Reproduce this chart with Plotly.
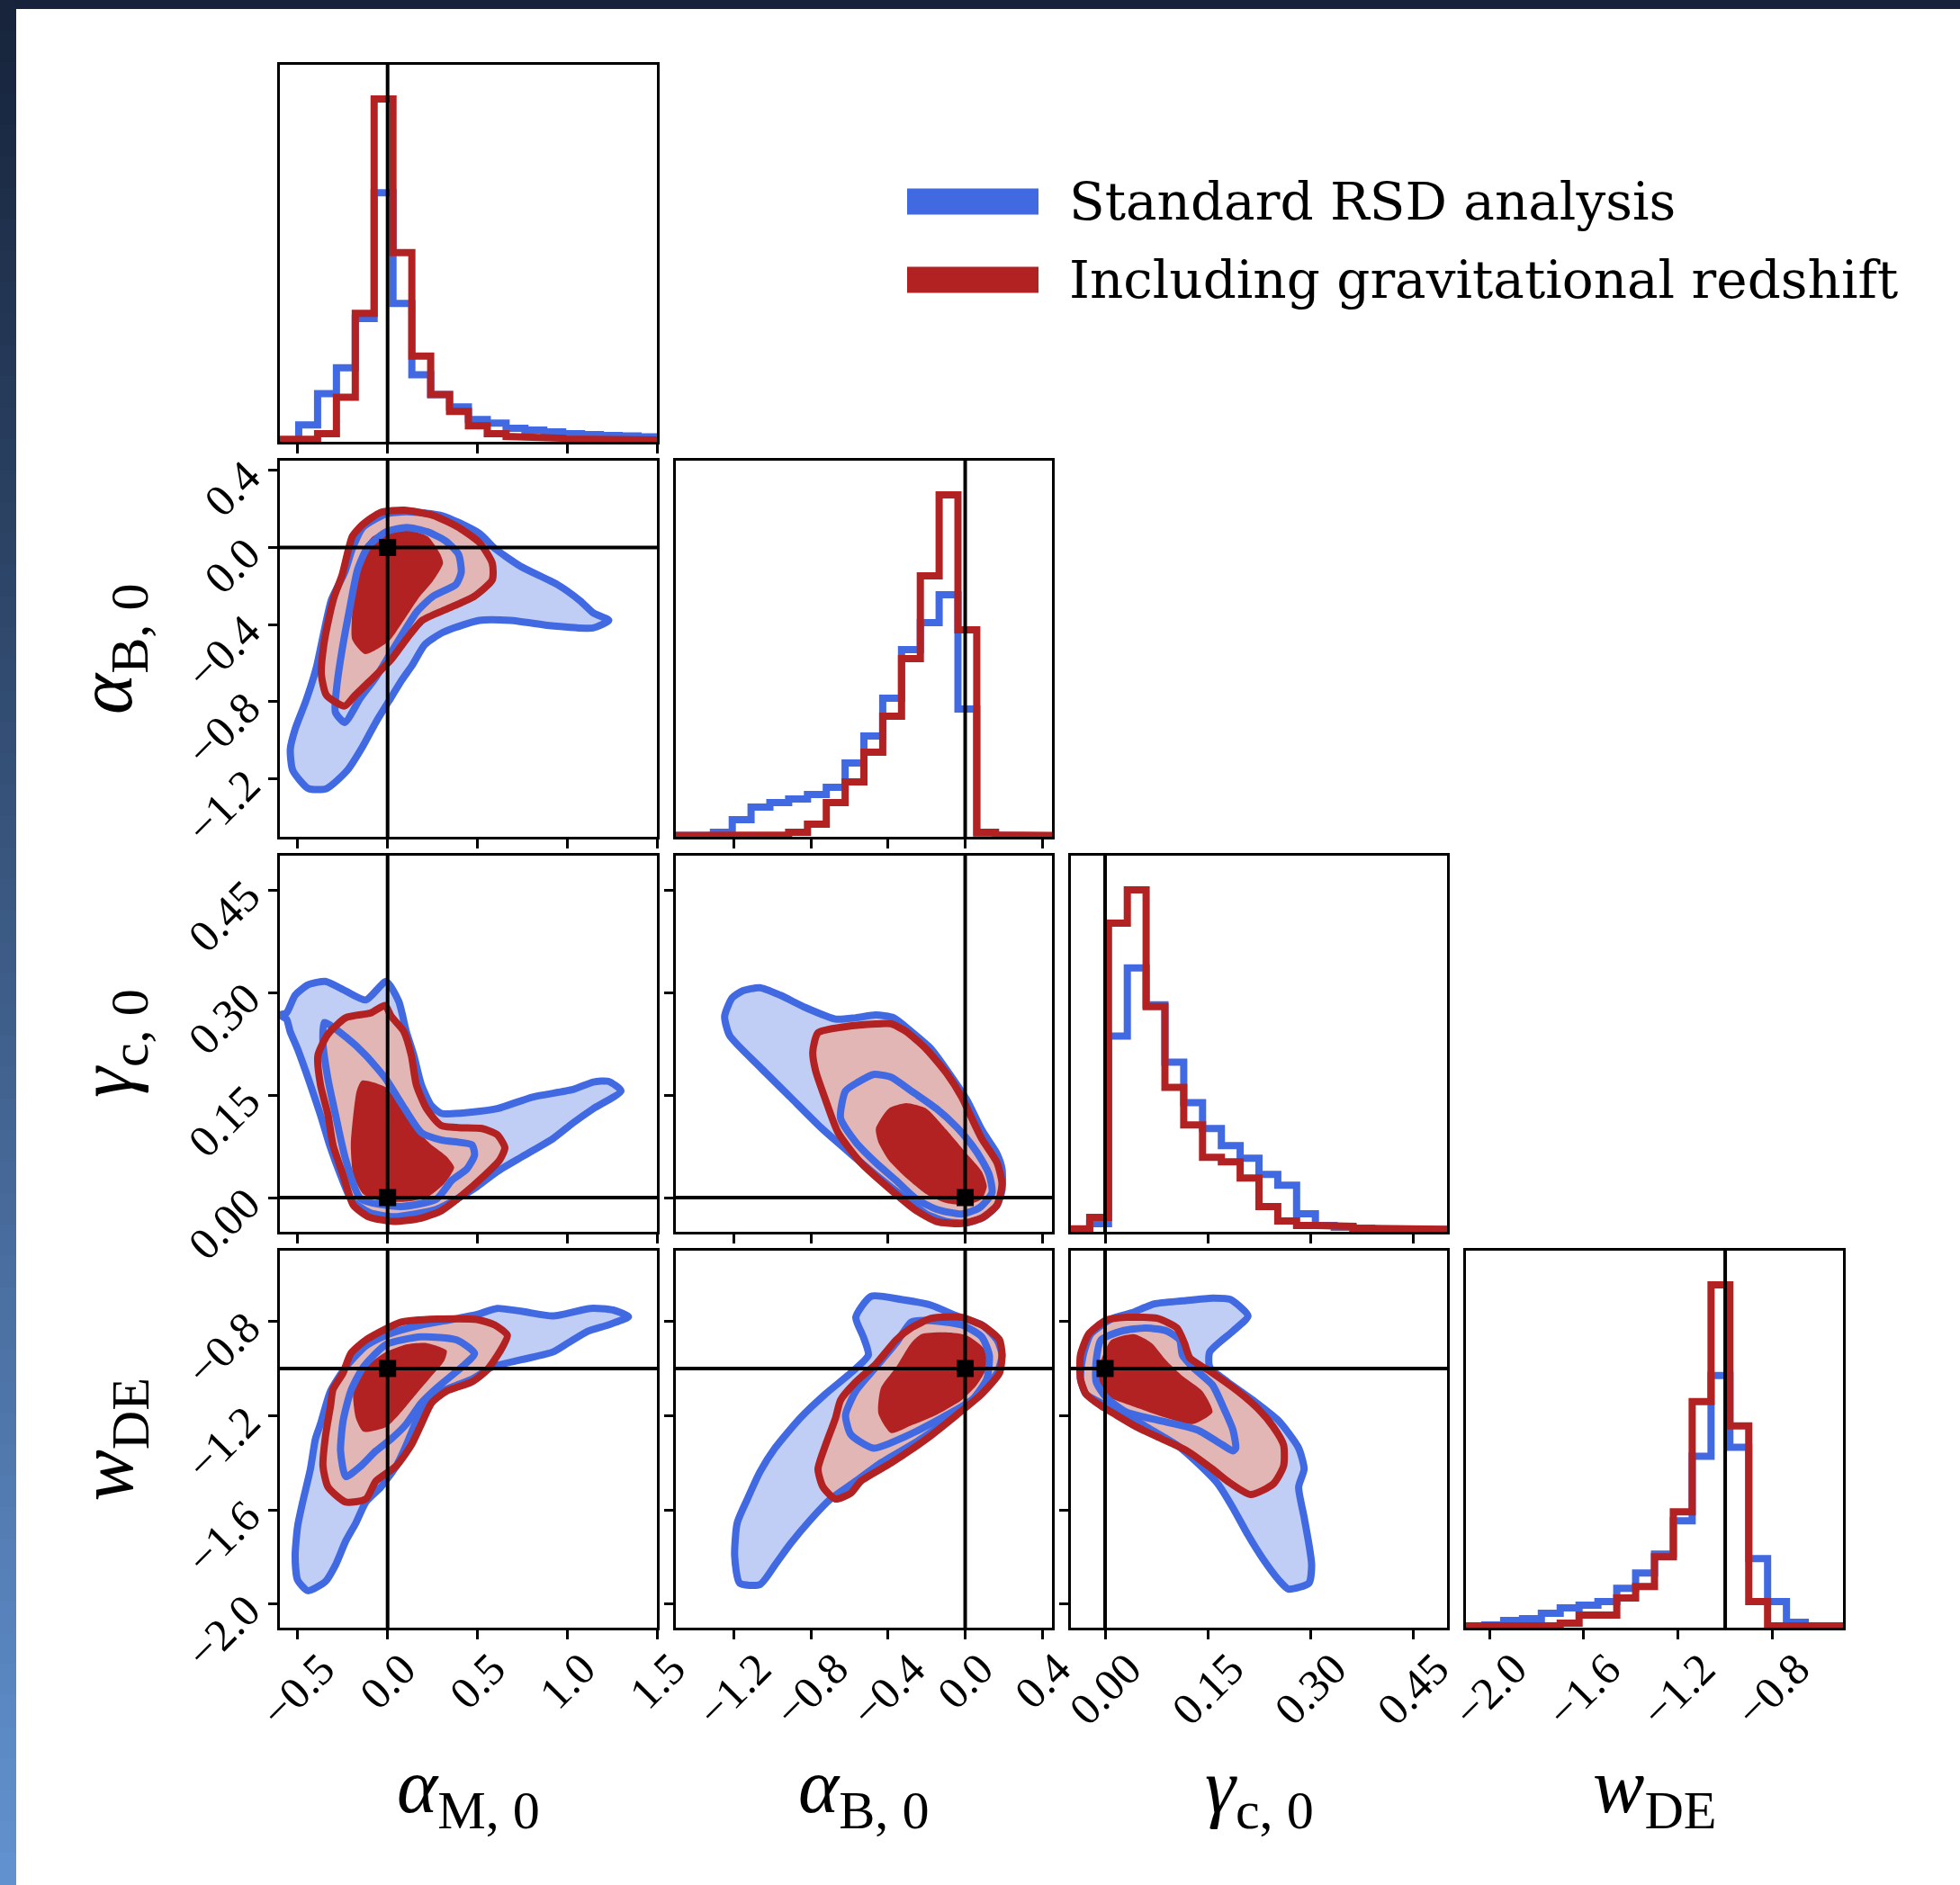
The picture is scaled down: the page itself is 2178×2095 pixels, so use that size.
import plotly.graph_objects as go

W, H = 2178, 2095

# ---------------- data ----------------
param_labels = ["<i>α</i><sub>M, 0</sub>", "<i>α</i><sub>B, 0</sub>",
                "<i>γ</i><sub>c, 0</sub>", "<i>w</i><sub>DE</sub>"]
param_ranges = [[-0.6, 1.5], [-1.5, 0.45], [-0.05, 0.5], [-2.1, -0.5]]
truth_values = [0.0, 0.0, 0.0, -1.0]
tick_values = [[-0.5, 0.0, 0.5, 1.0, 1.5], [-1.2, -0.8, -0.4, 0.0, 0.4],
               [0.0, 0.15, 0.30, 0.45], [-2.0, -1.6, -1.2, -0.8]]
tick_formats = [".1f", ".1f", ".2f", ".1f"]
n_bins = 20
legend_labels = ["Standard RSD analysis", "Including gravitational redshift"]

# 1D marginal histograms (20 bins over each parameter range, relative counts)
hist_std_aM = [2, 19, 54, 83, 138, 279, 155, 75, 53, 39, 25, 21, 15, 13, 11, 9, 8, 7, 6.5, 5.5]
hist_grav_aM = [2.7, 2.7, 9, 50, 144, 384, 212, 96, 53, 34, 18, 9, 6, 5, 4, 3, 3, 2.5, 2, 2]
hist_std_aB = [1.5, 1.5, 5, 19, 33, 38, 42, 47, 55, 82, 112, 154, 208, 238, 269, 142, 2, 1, 0.5, 0.5]
hist_grav_aB = [1.5, 1.5, 1.5, 1.5, 1.5, 2, 5, 14, 38, 61, 94, 134, 198, 290, 380, 230, 5, 2, 1.5, 1.5]
hist_std_gc = [0.5, 9, 218, 294, 253, 189, 144, 115, 96, 82, 64, 52, 20, 7, 5, 4, 3, 2.5, 2.5, 2.5]
hist_grav_gc = [3.3, 16, 344, 381, 251, 161, 119, 83, 78, 60, 28, 12, 7, 7, 6, 4, 2.7, 2.7, 2.7, 2.7]
hist_std_w = [1, 3, 8, 10, 16, 22, 25, 29, 44, 61, 82, 119, 191, 281, 201, 77, 29, 6, 2, 2]
hist_grav_w = [2, 2, 2, 2, 2, 5, 14, 14, 33, 46, 79, 129, 252, 382, 225, 29, 2, 2, 2, 2]

# 2D credible contours (x, y) ; std = standard RSD, grav = incl. gravitational redshift
# panel alpha_M (x) - alpha_B (y)
std95_aM_aB = [(-0.009, 0.174), (0.107, 0.185), (0.309, 0.163), (0.511, 0.073), (0.597, -0.005),
               (0.741, -0.098), (0.943, -0.191), (1.073, -0.277), (1.145, -0.339), (1.232, -0.378),
               (1.145, -0.417), (0.915, -0.406), (0.684, -0.378), (0.511, -0.378), (0.309, -0.440),
               (0.208, -0.503), (0.136, -0.612), (0.078, -0.689), (0.006, -0.798), (-0.066, -0.907),
               (-0.139, -1.032), (-0.225, -1.156), (-0.340, -1.250), (-0.441, -1.250), (-0.528, -1.156),
               (-0.542, -1.047), (-0.514, -0.939), (-0.456, -0.798), (-0.398, -0.627), (-0.355, -0.440),
               (-0.312, -0.269), (-0.239, -0.129), (-0.196, -0.005), (-0.138, 0.104)]
std68_aM_aB = [(-0.239, -0.907), (-0.291, -0.853), (-0.283, -0.721), (-0.254, -0.534), (-0.211, -0.316),
               (-0.167, -0.114), (-0.110, 0.003), (-0.009, 0.081), (0.107, 0.104), (0.222, 0.081),
               (0.323, 0.034), (0.395, -0.036), (0.410, -0.129), (0.381, -0.191), (0.251, -0.254),
               (0.164, -0.332), (0.078, -0.456), (0.006, -0.565), (-0.066, -0.674), (-0.153, -0.783)]
grav95_aM_aB = [(-0.239, -0.822), (-0.340, -0.767), (-0.369, -0.658), (-0.355, -0.503), (-0.326, -0.363),
                (-0.297, -0.254), (-0.254, -0.145), (-0.225, -0.036), (-0.196, 0.058), (-0.138, 0.120),
                (-0.038, 0.182), (0.092, 0.193), (0.251, 0.167), (0.395, 0.104), (0.511, 0.026),
                (0.583, -0.082), (0.583, -0.168), (0.482, -0.254), (0.338, -0.316), (0.193, -0.378),
                (0.107, -0.472), (0.020, -0.581), (-0.095, -0.689), (-0.182, -0.767)]
grav68_aM_aB = [(-0.124, -0.553), (-0.196, -0.479), (-0.196, -0.316), (-0.182, -0.145), (-0.153, -0.036),
                (-0.081, 0.058), (0.078, 0.096), (0.222, 0.058), (0.294, -0.036), (0.309, -0.082),
                (0.251, -0.176), (0.179, -0.254), (0.078, -0.394), (0.006, -0.487)]

# panel alpha_M (x) - gamma_c (y)
std95_aM_gc = [(-0.563, 0.270), (-0.600, 0.267), (-0.563, 0.261), (-0.543, 0.243), (-0.501, 0.217),
               (-0.430, 0.165), (-0.374, 0.121), (-0.323, 0.077), (-0.262, 0.033), (-0.200, -0.004),
               (-0.100, -0.022), (0.034, -0.028), (0.273, -0.017), (0.399, 0.000), (0.498, 0.016),
               (0.610, 0.038), (0.751, 0.060), (0.920, 0.086), (1.032, 0.109), (1.145, 0.130),
               (1.300, 0.156), (1.229, 0.170), (1.145, 0.169), (1.032, 0.158), (0.807, 0.147),
               (0.610, 0.130), (0.470, 0.125), (0.301, 0.123), (0.245, 0.134), (0.188, 0.165),
               (0.146, 0.208), (0.104, 0.243), (0.062, 0.287), (-0.008, 0.316), (-0.121, 0.289),
               (-0.233, 0.302), (-0.346, 0.316), (-0.444, 0.311), (-0.515, 0.296)]
std68_aM_gc = [(-0.352, 0.256), (-0.233, 0.235), (-0.121, 0.208), (-0.008, 0.173), (0.076, 0.138),
               (0.188, 0.095), (0.301, 0.084), (0.470, 0.077), (0.484, 0.062), (0.442, 0.042),
               (0.357, 0.025), (0.273, -0.002), (0.076, -0.013), (-0.149, -0.002), (-0.233, 0.055),
               (-0.290, 0.121), (-0.332, 0.173), (-0.360, 0.226)]
grav95_aM_gc = [(-0.014, 0.281), (-0.093, 0.270), (-0.233, 0.263), (-0.332, 0.239), (-0.388, 0.208),
                (-0.374, 0.165), (-0.332, 0.121), (-0.304, 0.077), (-0.248, 0.033), (-0.191, -0.011),
                (-0.107, -0.028), (0.034, -0.035), (0.188, -0.030), (0.301, -0.019), (0.413, 0.003),
                (0.526, 0.029), (0.624, 0.055), (0.653, 0.073), (0.610, 0.092), (0.526, 0.101),
                (0.301, 0.105), (0.217, 0.130), (0.160, 0.165), (0.132, 0.208), (0.090, 0.243),
                (0.020, 0.265)]
grav68_aM_gc = [(-0.143, 0.171), (-0.008, 0.161), (0.076, 0.130), (0.160, 0.099), (0.245, 0.077),
                (0.329, 0.060), (0.371, 0.044), (0.315, 0.020), (0.217, 0.000), (0.104, -0.006),
                (-0.037, -0.005), (-0.135, 0.005), (-0.191, 0.033), (-0.205, 0.077), (-0.191, 0.121),
                (-0.172, 0.156)]

# panel alpha_B (x) - gamma_c (y)
std95_aB_gc = [(-1.247, 0.265), (-1.208, 0.292), (-1.156, 0.302), (-1.064, 0.307), (-0.959, 0.296),
               (-0.829, 0.278), (-0.672, 0.261), (-0.567, 0.263), (-0.463, 0.267), (-0.371, 0.263),
               (-0.280, 0.243), (-0.175, 0.217), (-0.084, 0.182), (0.008, 0.143), (0.086, 0.099),
               (0.165, 0.064), (0.191, 0.042), (0.191, 0.011), (0.165, -0.011), (0.099, -0.028),
               (0.008, -0.037), (-0.097, -0.035), (-0.201, -0.024), (-0.306, -0.002), (-0.463, 0.033),
               (-0.593, 0.064), (-0.750, 0.103), (-0.907, 0.147), (-1.064, 0.191), (-1.221, 0.237)]
std68_aB_gc = [(-0.620, 0.156), (-0.554, 0.169), (-0.476, 0.180), (-0.384, 0.176), (-0.280, 0.156),
               (-0.149, 0.130), (-0.044, 0.103), (0.034, 0.077), (0.086, 0.055), (0.125, 0.033),
               (0.139, 0.007), (0.073, -0.015), (-0.018, -0.024), (-0.149, -0.017), (-0.254, -0.002),
               (-0.358, 0.025), (-0.463, 0.051), (-0.567, 0.081), (-0.646, 0.116)]
grav95_aB_gc = [(-0.790, 0.213), (-0.763, 0.241), (-0.620, 0.250), (-0.463, 0.254), (-0.384, 0.254),
                (-0.306, 0.243), (-0.201, 0.217), (-0.097, 0.182), (-0.018, 0.147), (0.034, 0.116),
                (0.086, 0.086), (0.165, 0.051), (0.191, 0.020), (0.165, -0.011), (0.086, -0.030),
                (-0.018, -0.038), (-0.149, -0.035), (-0.254, -0.019), (-0.384, 0.011), (-0.541, 0.051),
                (-0.659, 0.095), (-0.724, 0.143), (-0.776, 0.186)]
grav68_aB_gc = [(-0.463, 0.101), (-0.397, 0.130), (-0.306, 0.138), (-0.201, 0.130), (-0.097, 0.099),
                (0.008, 0.064), (0.086, 0.038), (0.112, 0.016), (0.086, -0.002), (0.008, -0.011),
                (-0.097, -0.008), (-0.201, 0.005), (-0.306, 0.029), (-0.397, 0.055), (-0.450, 0.081)]

# panel alpha_M (x) - w_DE (y)
std95_aM_w = [(-0.444, -1.943), (-0.501, -1.898), (-0.515, -1.796), (-0.501, -1.669), (-0.473, -1.567),
              (-0.430, -1.427), (-0.402, -1.299), (-0.374, -1.236), (-0.318, -1.096), (-0.233, -0.994),
              (-0.121, -0.904), (0.006, -0.854), (0.188, -0.815), (0.357, -0.792), (0.498, -0.771),
              (0.610, -0.745), (0.751, -0.758), (0.920, -0.777), (1.131, -0.745), (1.257, -0.752),
              (1.342, -0.780), (1.229, -0.815), (1.117, -0.841), (1.004, -0.892), (0.920, -0.930),
              (0.751, -0.962), (0.582, -0.994), (0.470, -1.045), (0.301, -1.096), (0.217, -1.134),
              (0.160, -1.223), (0.104, -1.325), (0.048, -1.414), (-0.037, -1.503), (-0.121, -1.567),
              (-0.177, -1.656), (-0.233, -1.732), (-0.290, -1.834), (-0.346, -1.904)]
std68_aM_w = [(-0.233, -1.459), (-0.262, -1.350), (-0.248, -1.223), (-0.205, -1.096), (-0.135, -0.994),
              (-0.008, -0.898), (0.188, -0.866), (0.385, -0.879), (0.484, -0.936), (0.413, -0.994),
              (0.273, -1.083), (0.188, -1.146), (0.104, -1.236), (0.020, -1.299), (-0.065, -1.350),
              (-0.149, -1.414)]
grav95_aM_w = [(-0.233, -1.567), (-0.332, -1.503), (-0.360, -1.414), (-0.346, -1.287), (-0.318, -1.159),
               (-0.304, -1.089), (-0.248, -1.019), (-0.205, -0.936), (-0.121, -0.879), (0.076, -0.803),
               (0.273, -0.790), (0.498, -0.792), (0.596, -0.815), (0.667, -0.860), (0.624, -0.930),
               (0.554, -1.006), (0.470, -1.057), (0.329, -1.096), (0.245, -1.146), (0.188, -1.236),
               (0.132, -1.325), (0.048, -1.414), (-0.065, -1.478), (-0.121, -1.554)]
grav68_aM_w = [(-0.135, -1.268), (-0.177, -1.210), (-0.191, -1.096), (-0.121, -0.994), (-0.008, -0.930),
               (0.104, -0.898), (0.217, -0.892), (0.329, -0.924), (0.315, -0.968), (0.245, -1.032),
               (0.160, -1.108), (0.062, -1.197), (-0.008, -1.248)]

# panel alpha_B (x) - w_DE (y)
std95_aB_w = [(-1.169, -1.911), (-1.195, -1.796), (-1.182, -1.656), (-1.129, -1.554), (-1.064, -1.439),
              (-0.986, -1.338), (-0.855, -1.210), (-0.724, -1.108), (-0.593, -1.019), (-0.502, -0.943),
              (-0.528, -0.866), (-0.567, -0.783), (-0.489, -0.694), (-0.332, -0.707), (-0.175, -0.732),
              (-0.044, -0.777), (0.086, -0.815), (0.165, -0.879), (0.191, -0.943), (0.165, -1.019),
              (0.060, -1.121), (-0.097, -1.223), (-0.254, -1.312), (-0.437, -1.401), (-0.567, -1.478),
              (-0.698, -1.554), (-0.803, -1.643), (-0.907, -1.745), (-0.986, -1.834), (-1.064, -1.917)]
std68_aB_w = [(-0.476, -1.338), (-0.593, -1.280), (-0.620, -1.197), (-0.567, -1.096), (-0.463, -0.994),
              (-0.358, -0.892), (-0.280, -0.803), (-0.201, -0.796), (-0.018, -0.815), (0.086, -0.866),
              (0.125, -0.943), (0.112, -1.045), (0.034, -1.134), (-0.123, -1.210), (-0.306, -1.287)]
grav95_aB_w = [(-0.672, -1.554), (-0.737, -1.503), (-0.763, -1.427), (-0.724, -1.325), (-0.672, -1.210),
               (-0.646, -1.134), (-0.567, -1.057), (-0.463, -0.981), (-0.358, -0.879), (-0.280, -0.828),
               (-0.175, -0.787), (-0.018, -0.783), (0.099, -0.822), (0.178, -0.879), (0.191, -0.943),
               (0.178, -1.019), (0.086, -1.108), (-0.044, -1.197), (-0.201, -1.299), (-0.384, -1.401),
               (-0.541, -1.478), (-0.593, -1.529)]
grav68_aB_w = [(-0.384, -1.274), (-0.450, -1.191), (-0.437, -1.083), (-0.358, -0.994), (-0.280, -0.892),
               (-0.227, -0.854), (-0.097, -0.847), (0.008, -0.860), (0.099, -0.917), (0.112, -0.994),
               (0.060, -1.070), (-0.018, -1.134), (-0.149, -1.197), (-0.280, -1.242)]

# panel gamma_c (x) - w_DE (y)
std95_gc_w = [(0.039, -0.764), (0.072, -0.726), (0.113, -0.713), (0.157, -0.701), (0.183, -0.707),
              (0.209, -0.777), (0.187, -0.841), (0.153, -0.930), (0.153, -0.994), (0.179, -1.057),
              (0.216, -1.134), (0.254, -1.223), (0.283, -1.338), (0.291, -1.427), (0.283, -1.503),
              (0.291, -1.631), (0.298, -1.745), (0.302, -1.834), (0.298, -1.911), (0.268, -1.936),
              (0.254, -1.898), (0.231, -1.809), (0.209, -1.707), (0.187, -1.592), (0.165, -1.490),
              (0.135, -1.401), (0.105, -1.325), (0.068, -1.261), (0.024, -1.185), (-0.006, -1.146),
              (-0.028, -1.108), (-0.036, -1.045), (-0.032, -0.943), (-0.021, -0.854), (0.009, -0.790)]
std68_gc_w = [(0.187, -1.350), (0.172, -1.325), (0.135, -1.261), (0.083, -1.223), (0.031, -1.185),
              (0.001, -1.121), (-0.013, -1.057), (-0.013, -0.968), (-0.006, -0.879), (0.024, -0.841),
              (0.061, -0.828), (0.090, -0.841), (0.109, -0.879), (0.113, -0.943), (0.128, -0.994),
              (0.157, -1.070), (0.172, -1.159), (0.187, -1.261), (0.191, -1.338)]
grav95_gc_w = [(0.213, -1.535), (0.179, -1.478), (0.157, -1.427), (0.120, -1.350), (0.083, -1.299),
               (0.046, -1.248), (0.016, -1.197), (-0.006, -1.159), (-0.028, -1.108), (-0.036, -1.045),
               (-0.036, -0.943), (-0.024, -0.854), (0.001, -0.796), (0.031, -0.783), (0.076, -0.787),
               (0.105, -0.828), (0.116, -0.892), (0.124, -0.955), (0.157, -1.019), (0.194, -1.096),
               (0.224, -1.172), (0.246, -1.248), (0.261, -1.325), (0.261, -1.414), (0.246, -1.490)]
grav68_gc_w = [(0.128, -1.236), (0.090, -1.210), (0.039, -1.159), (0.005, -1.121), (-0.010, -1.070),
               (-0.006, -0.968), (0.009, -0.879), (0.042, -0.854), (0.068, -0.892), (0.090, -0.968),
               (0.113, -1.032), (0.142, -1.096), (0.157, -1.185)]

hist_std = [hist_std_aM, hist_std_aB, hist_std_gc, hist_std_w]
hist_grav = [hist_grav_aM, hist_grav_aB, hist_grav_gc, hist_grav_w]
contours = {
    (1, 0): (std95_aM_aB, std68_aM_aB, grav95_aM_aB, grav68_aM_aB),
    (2, 0): (std95_aM_gc, std68_aM_gc, grav95_aM_gc, grav68_aM_gc),
    (2, 1): (std95_aB_gc, std68_aB_gc, grav95_aB_gc, grav68_aB_gc),
    (3, 0): (std95_aM_w, std68_aM_w, grav95_aM_w, grav68_aM_w),
    (3, 1): (std95_aB_w, std68_aB_w, grav95_aB_w, grav68_aB_w),
    (3, 2): (std95_gc_w, std68_gc_w, grav95_gc_w, grav68_gc_w),
}

# ---------------- style ----------------
BLUE = "#4169E1"
BLUE_FILL = "#C0CEF5"
RED = "#B22222"
RED_FILL = "#E3B6B6"
LW = 8
TICK_FONT = dict(family="Liberation Serif", size=50, color="black")
LABEL_FONT = dict(family="Liberation Serif", size=86, color="black")
LEGEND_FONT = dict(family="DejaVu Serif", size=58, color="black")

col_px = [(311, 730), (751, 1169), (1190, 1608), (1629, 2048)]
row_px = [(72, 491), (512, 930), (951, 1369), (1390, 1809)]


def fmt(v, f):
    return format(v, f).replace("-", "\u2212")


fig = go.Figure()
layout = dict(template="none", width=W, height=H, autosize=False,
              margin=dict(l=0, r=0, t=0, b=0, pad=0, autoexpand=False),
              paper_bgcolor="white", plot_bgcolor="white", showlegend=False)

axis_common = dict(showline=True, linecolor="black", linewidth=2.5, mirror=True,
                   showgrid=False, zeroline=False, ticks="outside", ticklen=10,
                   tickwidth=2.5, tickcolor="black", tickfont=TICK_FONT, automargin=False)

annotations = []
shapes = []
n = 0
for i in range(4):
    for j in range(i + 1):
        n += 1
        xk = "xaxis" if n == 1 else f"xaxis{n}"
        yk = "yaxis" if n == 1 else f"yaxis{n}"
        xr = "x" if n == 1 else f"x{n}"
        yr = "y" if n == 1 else f"y{n}"
        xdom = [col_px[j][0] / W, col_px[j][1] / W]
        ydom = [1 - row_px[i][1] / H, 1 - row_px[i][0] / H]
        layout[xk] = dict(axis_common, domain=xdom, anchor=yr, range=param_ranges[j],
                          tickvals=tick_values[j], showticklabels=False)
        if i == j:
            ymax = 1.1 * max(max(hist_grav[j]), max(hist_std[j]))
            layout[yk] = dict(axis_common, domain=ydom, anchor=xr, range=[0, ymax],
                              ticks="", showticklabels=False)
            lo, hi = param_ranges[j]
            width = (hi - lo) / n_bins
            for hist, col in ((hist_std[j], BLUE), (hist_grav[j], RED)):
                xs, ys = [lo], [0]
                for k, h in enumerate(hist):
                    xs += [lo + k * width, lo + (k + 1) * width]
                    ys += [h, h]
                xs.append(hi)
                ys.append(0)
                fig.add_trace(go.Scatter(x=xs, y=ys, mode="lines", line=dict(color=col, width=LW),
                                         xaxis=xr, yaxis=yr, hoverinfo="skip"))
            fig.add_trace(go.Scatter(x=[truth_values[j]] * 2, y=[0, ymax], mode="lines",
                                     line=dict(color="black", width=4), xaxis=xr, yaxis=yr))
        else:
            layout[yk] = dict(axis_common, domain=ydom, anchor=xr, range=param_ranges[i],
                              tickvals=tick_values[i], tickformat=tick_formats[i],
                              showticklabels=(j == 0), tickangle=-45, ticklabelstandoff=14)
            s95, s68, g95, g68 = contours[(i, j)]

            def xy(pts):
                return [p[0] for p in pts] + [pts[0][0]], [p[1] for p in pts] + [pts[0][1]]

            for pts, fc in ((s95, BLUE_FILL), (g95, RED_FILL), (g68, RED)):
                px_, py_ = xy(pts)
                fig.add_trace(go.Scatter(x=px_, y=py_, mode="lines", fill="toself", fillcolor=fc,
                                         line=dict(width=0, color=fc, shape="spline", smoothing=0.6),
                                         xaxis=xr, yaxis=yr, hoverinfo="skip"))
            for pts, lc in ((s95, BLUE), (s68, BLUE), (g95, RED)):
                px_, py_ = xy(pts)
                fig.add_trace(go.Scatter(x=px_, y=py_, mode="lines",
                                         line=dict(width=LW, color=lc, shape="spline", smoothing=0.6),
                                         xaxis=xr, yaxis=yr, hoverinfo="skip"))
            fig.add_trace(go.Scatter(x=[truth_values[j]] * 2, y=param_ranges[i], mode="lines",
                                     line=dict(color="black", width=4), xaxis=xr, yaxis=yr))
            fig.add_trace(go.Scatter(x=param_ranges[j], y=[truth_values[i]] * 2, mode="lines",
                                     line=dict(color="black", width=4), xaxis=xr, yaxis=yr))
            fig.add_trace(go.Scatter(x=[truth_values[j]], y=[truth_values[i]], mode="markers",
                                     marker=dict(symbol="square", size=19, color="black"),
                                     xaxis=xr, yaxis=yr))
        # bottom-row x tick labels (rotated, centred under the tick)
        if i == 3:
            for v in tick_values[j]:
                annotations.append(dict(x=v, xref=xr, y=1 - 1823 / H, yref="paper",
                                        text=fmt(v, tick_formats[j]), textangle=-45,
                                        xanchor="center", yanchor="top", showarrow=False,
                                        font=TICK_FONT))

# axis titles
for j in range(4):
    annotations.append(dict(x=(col_px[j][0] + col_px[j][1]) / 2 / W, xref="paper",
                            y=1 - 1991 / H, yref="paper", text=param_labels[j],
                            showarrow=False, xanchor="center", yanchor="middle", font=LABEL_FONT))
for i in range(1, 4):
    annotations.append(dict(x=123 / W, xref="paper", y=1 - (row_px[i][0] + row_px[i][1]) / 2 / H,
                            yref="paper", text=param_labels[i], textangle=-90,
                            showarrow=False, xanchor="center", yanchor="middle", font=LABEL_FONT))

# legend
legend_colors = [BLUE, RED]
legend_y = [224, 311]
for lab, col, yc in zip(legend_labels, legend_colors, legend_y):
    shapes.append(dict(type="rect", xref="paper", yref="paper", x0=1008 / W, x1=1154 / W,
                       y0=1 - (yc - 14.5) / H, y1=1 - (yc + 14.5) / H,
                       fillcolor=col, line=dict(width=0)))
    annotations.append(dict(x=1186 / W, xref="paper", y=1 - yc / H, yref="paper", text=lab,
                            showarrow=False, xanchor="left", yanchor="middle", font=LEGEND_FONT))

# page frame: dark top strip, gradient left strip
shapes.append(dict(type="rect", xref="paper", yref="paper", x0=0, x1=1, y0=1 - 10 / H, y1=1,
                   fillcolor="#16233a", line=dict(width=0)))
c_top = (0x16, 0x23, 0x3a)
c_bot = (0x62, 0x92, 0xd0)
NS = 60
for s in range(NS):
    t = (s + 0.5) / NS
    c = tuple(int(round(a + (b - a) * t)) for a, b in zip(c_top, c_bot))
    shapes.append(dict(type="rect", xref="paper", yref="paper", x0=0, x1=18 / W,
                       y0=1 - (s + 1) / NS, y1=1 - s / NS + 0.0005,
                       fillcolor="rgb(%d,%d,%d)" % c, line=dict(width=0)))

layout["annotations"] = annotations
layout["shapes"] = shapes
fig.update_layout(**layout)
fig.write_html("out.html",
               config={"responsive": False, "displayModeBar": False},
               post_script="document.body.style.margin='0px';")
